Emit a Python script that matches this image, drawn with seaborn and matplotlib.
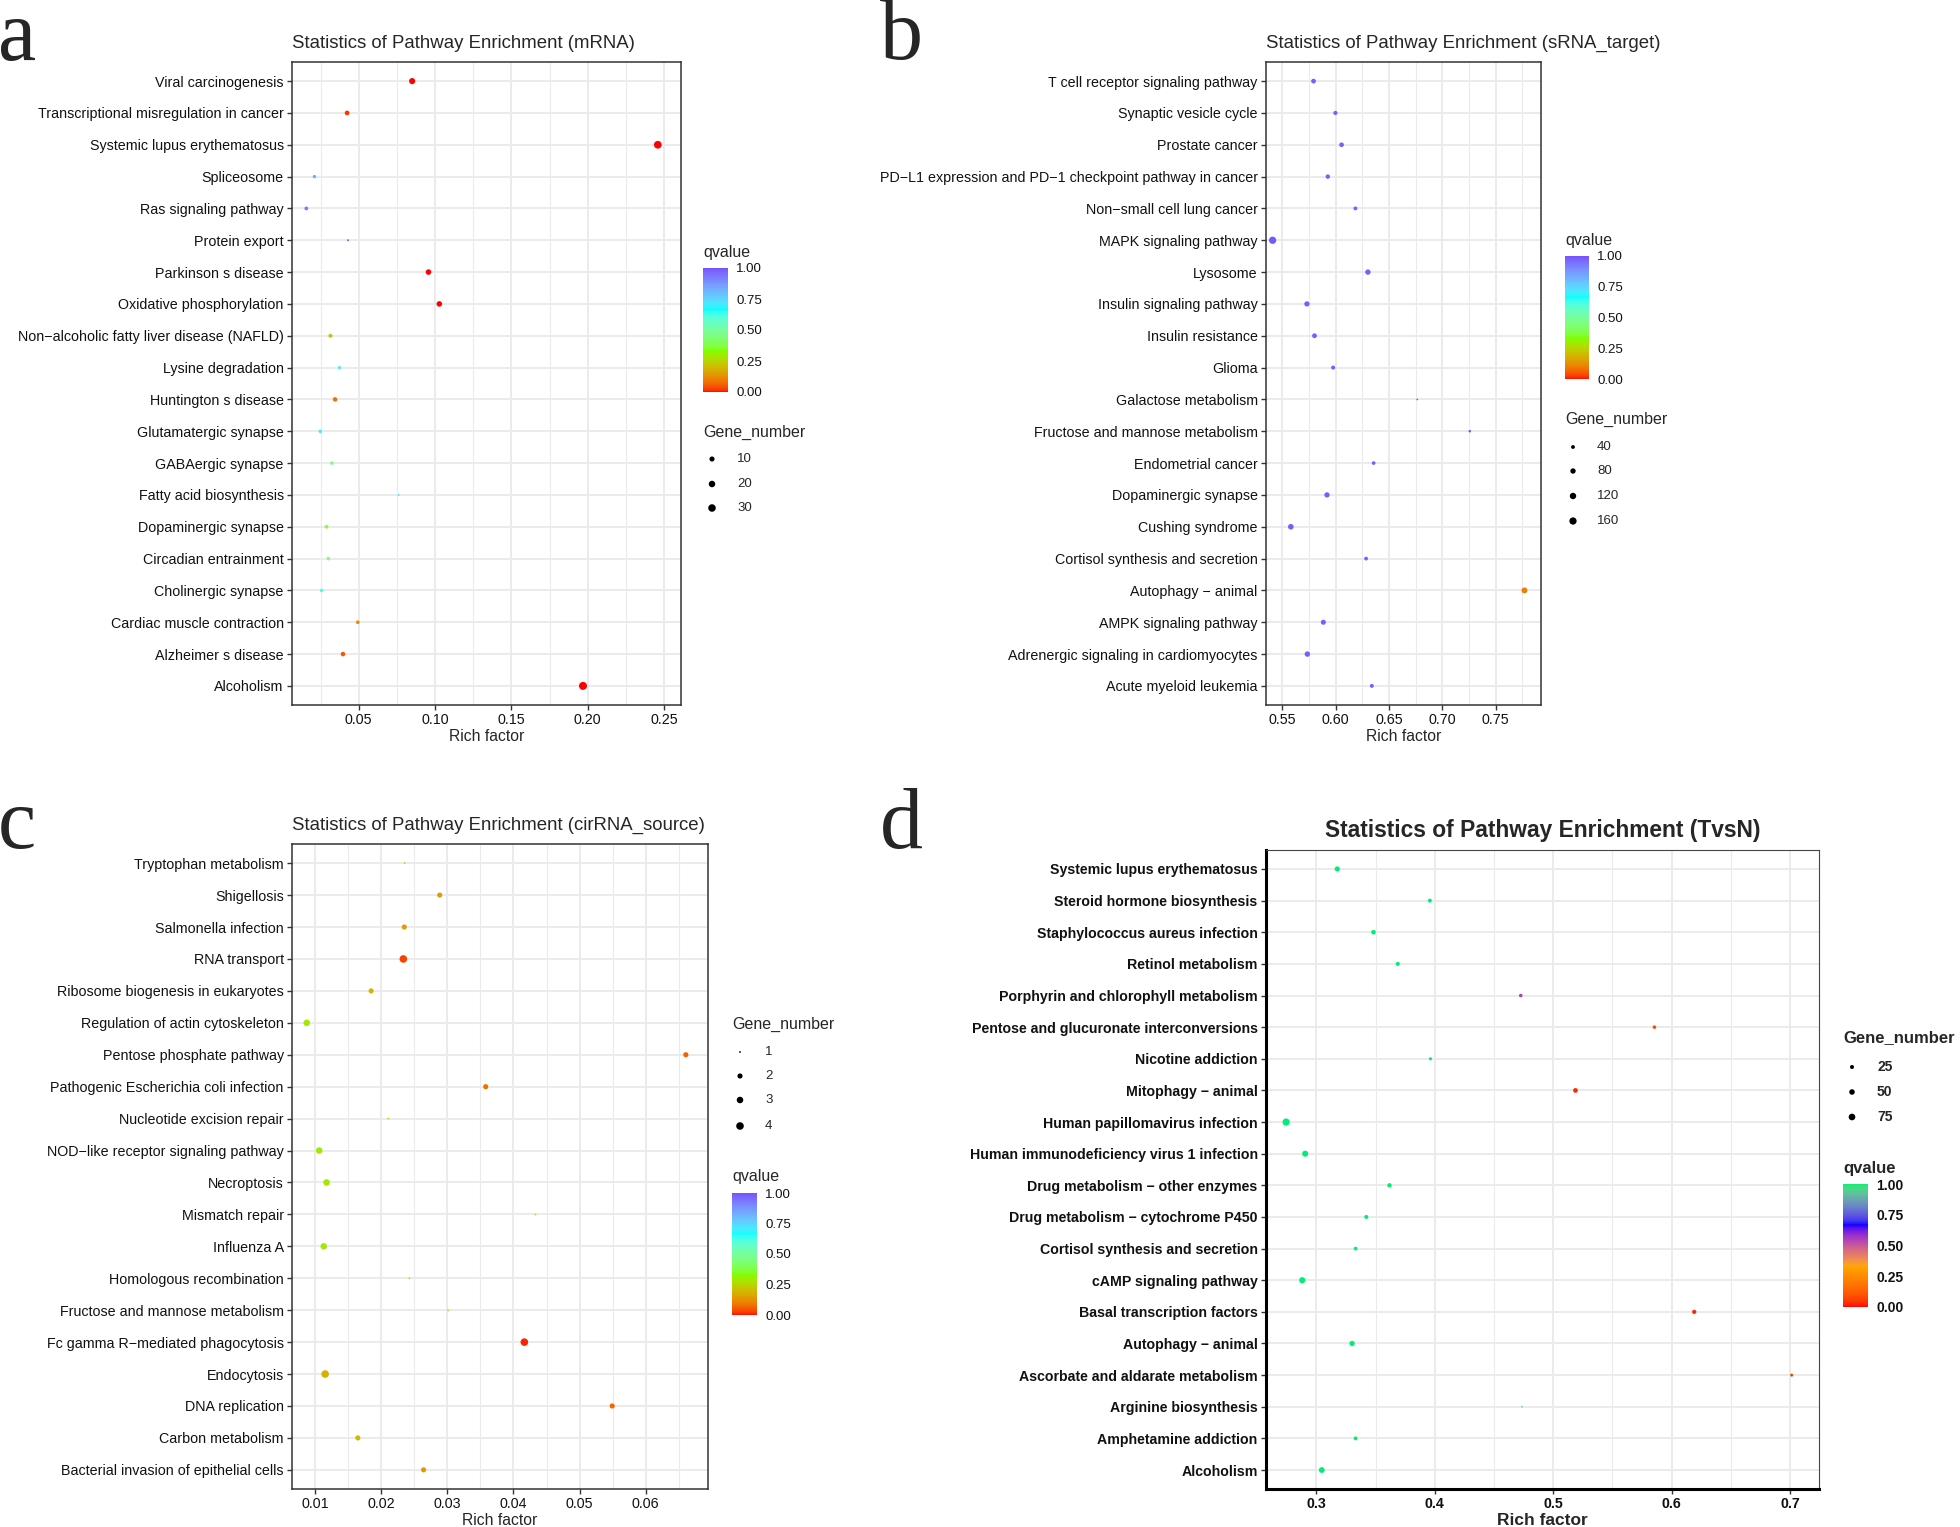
import numpy as np
import pandas as pd
import seaborn as sns
import matplotlib.pyplot as plt
from matplotlib.colors import ListedColormap, Normalize, to_rgb
from matplotlib.cm import ScalarMappable
from matplotlib.ticker import AutoMinorLocator, FormatStrFormatter

M = "\u2212"

# ---- panel a: mRNA ----
a_terms = ["Viral carcinogenesis", "Transcriptional misregulation in cancer", "Systemic lupus erythematosus",
           "Spliceosome", "Ras signaling pathway", "Protein export", "Parkinson s disease",
           "Oxidative phosphorylation", f"Non{M}alcoholic fatty liver disease (NAFLD)", "Lysine degradation",
           "Huntington s disease", "Glutamatergic synapse", "GABAergic synapse", "Fatty acid biosynthesis",
           "Dopaminergic synapse", "Circadian entrainment", "Cholinergic synapse", "Cardiac muscle contraction",
           "Alzheimer s disease", "Alcoholism"]
a_rich = [0.0850, 0.0424, 0.2459, 0.0210, 0.0157, 0.0430, 0.0957, 0.1028, 0.0315, 0.0374,
          0.0345, 0.0248, 0.0324, 0.0761, 0.0289, 0.0301, 0.0257, 0.0494, 0.0397, 0.1969]
a_genes = [17, 8, 32, 3, 4, 1, 13, 13, 5, 2, 7, 3, 3, 1, 4, 3, 3, 4, 7, 35]
a_q = [0.0, 0.02, 0.0, 0.83, 0.93, 0.97, 0.0, 0.0, 0.22, 0.66, 0.08, 0.68, 0.45, 0.70,
       0.38, 0.47, 0.62, 0.13, 0.05, 0.0]

# ---- panel b: sRNA_target ----
b_terms = ["T cell receptor signaling pathway", "Synaptic vesicle cycle", "Prostate cancer",
           f"PD{M}L1 expression and PD{M}1 checkpoint pathway in cancer", f"Non{M}small cell lung cancer",
           "MAPK signaling pathway", "Lysosome", "Insulin signaling pathway", "Insulin resistance", "Glioma",
           "Galactose metabolism", "Fructose and mannose metabolism", "Endometrial cancer",
           "Dopaminergic synapse", "Cushing syndrome", "Cortisol synthesis and secretion",
           f"Autophagy {M} animal", "AMPK signaling pathway", "Adrenergic signaling in cardiomyocytes",
           "Acute myeloid leukemia"]
b_rich = [0.5792, 0.5997, 0.6055, 0.5926, 0.6185, 0.5408, 0.6302, 0.5730, 0.5801, 0.5976,
          0.6765, 0.7258, 0.6356, 0.5918, 0.5579, 0.6285, 0.7771, 0.5884, 0.5734, 0.6339]
b_genes = [61, 47, 59, 53, 41, 162, 81, 78, 63, 45, 21, 24, 37, 78, 90, 40, 99, 71, 83, 42]
b_q = [0.98, 0.98, 0.98, 0.98, 0.98, 0.99, 0.98, 0.98, 0.98, 0.98,
       0.98, 0.98, 0.98, 0.98, 0.98, 0.98, 0.10, 0.98, 0.98, 0.98]

# ---- panel c: cirRNA_source ----
c_terms = ["Tryptophan metabolism", "Shigellosis", "Salmonella infection", "RNA transport",
           "Ribosome biogenesis in eukaryotes", "Regulation of actin cytoskeleton", "Pentose phosphate pathway",
           "Pathogenic Escherichia coli infection", "Nucleotide excision repair",
           f"NOD{M}like receptor signaling pathway", "Necroptosis", "Mismatch repair", "Influenza A",
           "Homologous recombination", "Fructose and mannose metabolism", f"Fc gamma R{M}mediated phagocytosis",
           "Endocytosis", "DNA replication", "Carbon metabolism", "Bacterial invasion of epithelial cells"]
c_rich = [0.02356, 0.02885, 0.02349, 0.02335, 0.01848, 0.00875, 0.06605, 0.03580, 0.02106, 0.01063,
          0.01174, 0.04331, 0.01132, 0.02426, 0.03010, 0.04164, 0.01153, 0.05492, 0.01647, 0.02641]
c_genes = [1, 2, 2, 4, 2, 3, 2, 2, 1, 3, 3, 1, 3, 1, 1, 4, 4, 2, 2, 2]
c_q = [0.32, 0.15, 0.15, 0.03, 0.19, 0.29, 0.06, 0.08, 0.32, 0.29,
       0.29, 0.33, 0.29, 0.32, 0.30, 0.01, 0.18, 0.07, 0.20, 0.14]

# ---- panel d: TvsN ----
d_terms = ["Systemic lupus erythematosus", "Steroid hormone biosynthesis", "Staphylococcus aureus infection",
           "Retinol metabolism", "Porphyrin and chlorophyll metabolism", "Pentose and glucuronate interconversions",
           "Nicotine addiction", f"Mitophagy {M} animal", "Human papillomavirus infection",
           "Human immunodeficiency virus 1 infection", f"Drug metabolism {M} other enzymes",
           f"Drug metabolism {M} cytochrome P450", "Cortisol synthesis and secretion", "cAMP signaling pathway",
           "Basal transcription factors", f"Autophagy {M} animal", "Ascorbate and aldarate metabolism",
           "Arginine biosynthesis", "Amphetamine addiction", "Alcoholism"]
d_rich = [0.3176, 0.3958, 0.3482, 0.3687, 0.4726, 0.5855, 0.3963, 0.5188, 0.2744, 0.2905,
          0.3617, 0.3421, 0.3331, 0.2880, 0.6191, 0.3301, 0.7014, 0.4736, 0.3331, 0.3045]
d_genes = [43, 24, 33, 25, 20, 20, 16, 35, 90, 61, 29, 25, 22, 63, 28, 46, 15, 10, 23, 55]
d_q = [1.0, 1.0, 1.0, 1.0, 0.55, 0.08, 1.0, 0.03, 1.0, 1.0,
       1.0, 1.0, 1.0, 1.0, 0.03, 1.0, 0.05, 0.95, 1.0, 1.0]

W, H = 1960, 1527
sns.set_theme(style="white")
plt.rcParams['font.family'] = ['Liberation Sans', 'DejaVu Sans']

XYZ = np.array([[0.4124, 0.3576, 0.1805], [0.2126, 0.7152, 0.0722], [0.0193, 0.1192, 0.9505]])
WHITE = np.array([0.95047, 1.0, 1.08883])


def to_lab(c):
    rgb = np.array(to_rgb(c))
    lin = np.where(rgb <= 0.04045, rgb / 12.92, ((rgb + 0.055) / 1.055) ** 2.4)
    xyz = XYZ @ lin / WHITE
    f = np.where(xyz > 0.008856, np.cbrt(xyz), 7.787 * xyz + 16 / 116)
    return np.array([116 * f[1] - 16, 500 * (f[0] - f[1]), 200 * (f[1] - f[2])])


def lab_ramp(colours, n=256):
    # ggplot-style gradient: interpolate in CIELAB
    labs = np.array([to_lab(c) for c in colours])
    pos = np.linspace(0, 1, len(colours))
    t = np.linspace(0, 1, n)
    lab = np.stack([np.interp(t, pos, labs[:, i]) for i in range(3)], -1)
    fy = (lab[:, 0] + 16) / 116
    f = np.stack([fy + lab[:, 1] / 500, fy, fy - lab[:, 2] / 200], -1)
    xyz = np.where(f > 0.2069, f ** 3, (f - 16 / 116) / 7.787) * WHITE
    lin = np.clip(xyz @ np.linalg.inv(XYZ).T, 0, 1)
    rgb = np.where(lin <= 0.0031308, 12.92 * lin, 1.055 * lin ** (1 / 2.4) - 0.055)
    return ListedColormap(np.clip(rgb, 0, 1))


cmap_abc = lab_ramp(["#FF0000", "#7FFF00", "#00FFFF", "#7852FF"])
cmap_d = lab_ramp(["#FF0000", "#FFA500", "#0000FF", "#00EE76"])


def gg_area(n, lo, hi, dmin, dmax):
    # ggplot scale_size: diameter grows with sqrt of rescaled value; px -> pt^2
    t = np.clip((np.asarray(n, float) - lo) / (hi - lo), 0, 1)
    d = dmin + np.sqrt(t) * (dmax - dmin)
    return (d * 0.72) ** 2


def rect(x0, y0, x1, y1):
    return [x0 / W, 1 - y1 / H, (x1 - x0) / W, (y1 - y0) / H]


fig = plt.figure(figsize=(19.6, 15.27), dpi=100)
lax = fig.add_axes([0, 0, 1, 1], zorder=-1)
lax.set_xlim(0, W)
lax.set_ylim(H, 0)
lax.axis('off')


def panel(box, terms, rich, genes, qv, cmap, xlim, xticks, fmt, title, drange, bold=False):
    ax = fig.add_axes(rect(*box))
    df = pd.DataFrame({"term": terms, "rich": rich, "genes": genes, "q": qv})
    lo, hi = min(genes), max(genes)
    df["area"] = gg_area(df["genes"], lo, hi, *drange)
    smin, smax = df["area"].min(), df["area"].max()
    sns.scatterplot(data=df, x="rich", y="term", hue="q", palette=cmap, hue_norm=(0, 1),
                    size="area", sizes=(smin, smax), size_norm=(smin, smax),
                    linewidth=0, legend=False, ax=ax, zorder=3)
    ax.set_ylim(len(terms) - 0.4, -0.6)
    ax.set_xlim(*xlim)
    ax.set_xticks(xticks)
    ax.xaxis.set_major_formatter(FormatStrFormatter(fmt))
    ax.xaxis.set_minor_locator(AutoMinorLocator(2))
    ax.set_axisbelow(True)
    ax.grid(True, which='major', color='#EBEBEB', lw=1.4)
    ax.grid(True, which='minor', axis='x', color='#EBEBEB', lw=0.8)
    weight = 'bold' if bold else 'normal'
    ax.tick_params(which='major', bottom=True, left=True, length=3.8, width=1.0, color='#333333',
                   labelsize=10.2 if bold else 10.3, labelcolor='#111111', pad=2.2)
    ax.tick_params(which='minor', length=0)
    for lab in ax.get_xticklabels() + ax.get_yticklabels():
        lab.set_fontweight(weight)
    ax.set_ylabel("")
    ax.set_xlabel("Rich factor", fontsize=12.5 if bold else 11.3, fontweight=weight, labelpad=1)
    if bold:
        ax.set_title(title, fontsize=16.4, fontweight='bold', pad=9.5)
        for s in ['left', 'bottom']:
            ax.spines[s].set_color('black')
            ax.spines[s].set_linewidth(2.2)
        for s in ['top', 'right']:
            ax.spines[s].set_color('#444444')
            ax.spines[s].set_linewidth(0.8)
    else:
        ax.set_title(title, loc='left', fontsize=13.4, pad=10)
        for s in ax.spines.values():
            s.set_color('#333333')
            s.set_linewidth(1.1)
    return ax, lo, hi


def qbar(box, cmap, title_xy, bold=False):
    cax = fig.add_axes(rect(*box))
    cb = fig.colorbar(ScalarMappable(norm=Normalize(0, 1), cmap=cmap), cax=cax,
                      ticks=[0, 0.25, 0.5, 0.75, 1.0], format="%.2f")
    cb.outline.set_visible(False)
    cax.tick_params(left=True, right=True, labelleft=False, labelright=True, direction='in',
                    length=5, width=0.9, color='white', labelsize=10 if bold else 9.5,
                    labelcolor='#111111', pad=6)
    if bold:
        for lab in cax.get_yticklabels():
            lab.set_fontweight('bold')
    lax.text(*title_xy, "qvalue", fontsize=12 if bold else 11.5, va='center', ha='left',
             fontweight='bold' if bold else 'normal')


def size_legend(title_xy, x_dot, x_lab, ys, vals, lo, hi, drange, bold=False):
    w = 'bold' if bold else 'normal'
    lax.text(*title_xy, "Gene_number", fontsize=12 if bold else 11.5, va='center', ha='left', fontweight=w)
    lax.scatter([x_dot] * len(vals), ys, s=gg_area(vals, lo, hi, *drange), color='black', linewidth=0)
    for y, v in zip(ys, vals):
        lax.text(x_lab, y, str(v), fontsize=10 if bold else 9.5, va='center', ha='left', fontweight=w)


dr_a, dr_b, dr_c, dr_d = (2.0, 8.0), (1.8, 7.3), (1.8, 7.6), (1.6, 7.2)

ax_a, lo, hi = panel((292, 62, 681, 705), a_terms, a_rich, a_genes, a_q, cmap_abc, (0.0063, 0.2611),
                     [0.05, 0.10, 0.15, 0.20, 0.25], "%.2f", "Statistics of Pathway Enrichment (mRNA)", dr_a)
qbar((703, 268, 728, 392), cmap_abc, (703, 253))
size_legend((703, 432), 712, 737, [459, 484, 508], [10, 20, 30], lo, hi, dr_a)

ax_b, lo, hi = panel((1266, 62, 1541, 705), b_terms, b_rich, b_genes, b_q, cmap_abc, (0.5346, 0.7926),
                     [0.55, 0.60, 0.65, 0.70, 0.75], "%.2f", "Statistics of Pathway Enrichment (sRNA_target)", dr_b)
qbar((1565, 256, 1589, 379), cmap_abc, (1565, 241))
size_legend((1565, 419), 1573, 1597, [447, 471, 496, 521], [40, 80, 120, 160], lo, hi, dr_b)

ax_c, lo, hi = panel((292, 844, 708, 1489), c_terms, c_rich, c_genes, c_q, cmap_abc, (0.00652, 0.0694),
                     [0.01, 0.02, 0.03, 0.04, 0.05, 0.06], "%.2f",
                     "Statistics of Pathway Enrichment (cirRNA_source)", dr_c)
qbar((732, 1193, 757, 1315), cmap_abc, (732, 1177))
size_legend((732, 1024), 740, 765, [1052, 1076, 1100, 1126], [1, 2, 3, 4], lo, hi, dr_c)

ax_d, lo, hi = panel((1266, 850, 1819, 1489), d_terms, d_rich, d_genes, d_q, cmap_d, (0.2574, 0.7245),
                     [0.3, 0.4, 0.5, 0.6, 0.7], "%.1f", "Statistics of Pathway Enrichment (TvsN)", dr_d, bold=True)
qbar((1843, 1184, 1868, 1307), cmap_d, (1843, 1168), bold=True)
size_legend((1843, 1038), 1852, 1877, [1067, 1092, 1117], [25, 50, 75], lo, hi, dr_d, bold=True)

# panel letters
for letter, x, y in [("a", -2, 60), ("b", 880, 59), ("c", -2, 848), ("d", 880, 848)]:
    lax.text(x, y, letter, fontsize=62, family=['Liberation Serif', 'DejaVu Serif'],
             va='baseline', ha='left')

fig.savefig("out.png", dpi=100, facecolor='white')
